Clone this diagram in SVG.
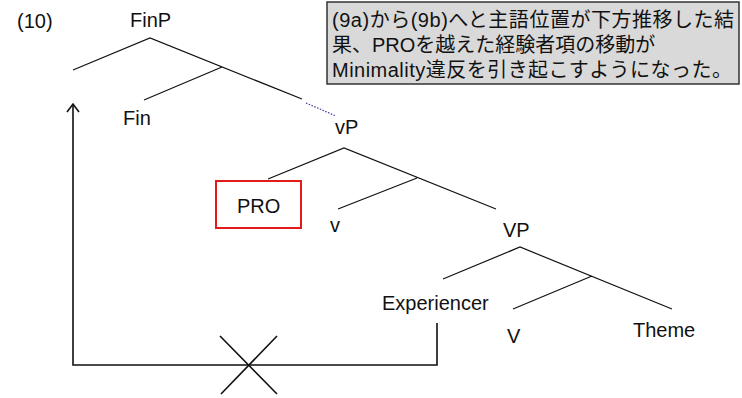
<svg xmlns="http://www.w3.org/2000/svg" width="742" height="398" viewBox="0 0 742 398">
<defs>
<style>
.t{font-family:"Liberation Sans",Arial,"Noto Sans CJK JP",sans-serif;font-size:20px;fill:#111}
.e{stroke:#111;stroke-width:1.2;fill:none}
.m{stroke:#111;stroke-width:1.6;fill:none}
</style>
</defs>
<rect width="742" height="398" fill="#fff"/>
<text class="t" x="17" y="28">(10)</text>
<g id="note">
<rect x="327" y="2" width="412" height="82" fill="#d9d9d9" stroke="#333" stroke-width="1.5"/>
<text class="t" x="332" y="27" textLength="402" lengthAdjust="spacing">(9a)から(9b)へと主語位置が下方推移した結</text>
<text class="t" x="332" y="52">果、PROを越えた経験者項の移動が</text>
<text class="t" x="332" y="77" textLength="400" lengthAdjust="spacing">Minimality違反を引き起こすようになった。</text>
</g>
<g id="FinP"><text class="t" x="130" y="27">FinP</text></g>
<g id="Fin"><text class="t" x="123" y="125">Fin</text></g>
<g id="vP"><text class="t" x="335" y="134">vP</text></g>
<g id="PRO">
<rect x="216" y="181" width="85" height="47" fill="#fff" stroke="#e21a1a" stroke-width="2"/>
<text class="t" x="237" y="213">PRO</text>
</g>
<g id="v"><text class="t" x="330" y="232">v</text></g>
<g id="VP"><text class="t" x="503" y="237">VP</text></g>
<g id="Experiencer"><text class="t" x="382" y="310">Experiencer</text></g>
<g id="V"><text class="t" x="507" y="343">V</text></g>
<g id="Theme"><text class="t" x="633" y="337">Theme</text></g>
<g id="connectors">
<path class="e" d="M73,70 L150,38 L302,99 M222,67 L144,100"/>
<path d="M306,103 L336,116" stroke="#3a3aa8" stroke-width="1.2" stroke-dasharray="1.5,1.5" fill="none"/>
<path class="e" d="M268,179 L344,148 L496,209 M417,178 L338,209"/>
<path class="e" d="M443,279 L520,247 L672,309 M592,276 L513,309"/>
<path class="m" d="M437,323 V365 H73 V104"/>
<path class="m" d="M67,112 L73,104 L79,112"/>
<path class="m" d="M220,336 L277,394 M277,336 L221,394"/>
</g>
</svg>
